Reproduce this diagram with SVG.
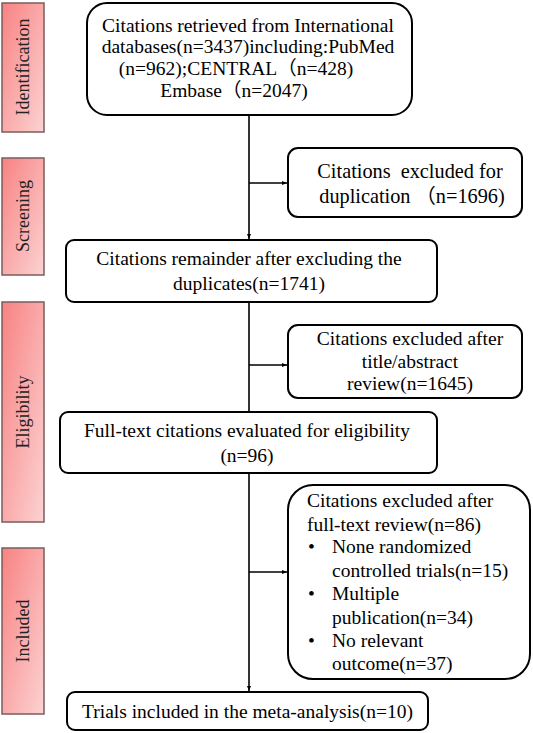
<svg xmlns="http://www.w3.org/2000/svg" width="533" height="733" viewBox="0 0 533 733">
<defs>
<linearGradient id="stage" x1="0" y1="0" x2="1" y2="1">
<stop offset="0" stop-color="#f88282"/>
<stop offset="1" stop-color="#fcd2d2"/>
</linearGradient>
<marker id="arr" viewBox="0 0 10 10" refX="10" refY="5" markerWidth="5" markerHeight="5" orient="auto" markerUnits="userSpaceOnUse">
<path d="M0,1 L10,5 L0,9 z" fill="#000"/>
</marker>
<style>
.stage{fill:url(#stage);stroke:#7a5c5c;stroke-width:1.5}
.box{fill:#fff;stroke:#000;stroke-width:2}
.t{font-family:"Liberation Serif","Noto Sans CJK SC",serif;font-size:19.5px;fill:#000}
.big{font-size:20.3px}
.c{text-anchor:middle}
.side{font-family:"Liberation Serif",serif;font-size:18px;fill:#222;text-anchor:middle}
.ln{fill:none;stroke:#000;stroke-width:1.6}
</style>
</defs>

<g id="stage-identification">
<rect class="stage" x="2" y="3" width="42" height="129"/>
<text class="side" transform="translate(29,67) rotate(-90)">Identification</text>
</g>
<g id="stage-screening">
<rect class="stage" x="2" y="158" width="42" height="117"/>
<text class="side" transform="translate(29,216) rotate(-90)">Screening</text>
</g>
<g id="stage-eligibility">
<rect class="stage" x="2" y="302" width="42" height="220"/>
<text class="side" transform="translate(29,412) rotate(-90)">Eligibility</text>
</g>
<g id="stage-included">
<rect class="stage" x="2" y="548" width="42" height="166"/>
<text class="side" transform="translate(29,631) rotate(-90)">Included</text>
</g>

<g id="connectors">
<path class="ln" d="M249,115 V239" marker-end="url(#arr)"/>
<path class="ln" d="M249,183 H287" marker-end="url(#arr)"/>
<path class="ln" d="M249,302 V412"/>
<path class="ln" d="M249,365 H287" marker-end="url(#arr)"/>
<path class="ln" d="M249,473 V691" marker-end="url(#arr)"/>
<path class="ln" d="M249,572 H287" marker-end="url(#arr)"/>
</g>

<g id="n1">
<rect class="box" x="87" y="3" width="325" height="112" rx="20"/>
<text class="t c" x="248" y="32">Citations retrieved from International</text>
<text class="t c" x="248" y="53">databases(n=3437)including:PubMed</text>
<text class="t c" x="236" y="75">(n=962);CENTRAL（n=428)</text>
<text class="t c" x="234" y="97">Embase（n=2047)</text>
</g>

<g id="n2">
<rect class="box" x="288" y="148" width="234" height="69" rx="10"/>
<text class="t big c" x="410" y="178" xml:space="preserve">Citations  excluded for</text>
<text class="t big c" x="412" y="203" xml:space="preserve">duplication （n=1696)</text>
</g>

<g id="n3">
<rect class="box" x="66" y="240" width="371" height="62" rx="8"/>
<text class="t c" x="249" y="265">Citations remainder after excluding the</text>
<text class="t c" x="249" y="290">duplicates(n=1741)</text>
</g>

<g id="n4">
<rect class="box" x="288" y="325" width="234" height="73" rx="10"/>
<text class="t c" x="410" y="345">Citations excluded after</text>
<text class="t c" x="410" y="368">title/abstract</text>
<text class="t c" x="410" y="390">review(n=1645)</text>
</g>

<g id="n5">
<rect class="box" x="60" y="412" width="377" height="61" rx="8"/>
<text class="t c" x="247" y="437">Full-text citations evaluated for eligibility</text>
<text class="t c" x="247" y="462">(n=96)</text>
</g>

<g id="n6">
<rect class="box" x="288" y="485" width="242" height="194" rx="25"/>
<text class="t" x="307" y="507">Citations excluded after</text>
<text class="t" x="307" y="531">full-text review(n=86)</text>
<text class="t" x="308" y="553">•</text>
<text class="t" x="332" y="553">None randomized</text>
<text class="t" x="332" y="577">controlled trials(n=15)</text>
<text class="t" x="308" y="600">•</text>
<text class="t" x="332" y="600">Multiple</text>
<text class="t" x="332" y="624">publication(n=34)</text>
<text class="t" x="308" y="647">•</text>
<text class="t" x="332" y="647">No relevant</text>
<text class="t" x="332" y="670">outcome(n=37)</text>
</g>

<g id="n7">
<rect class="box" x="67" y="692" width="361" height="38" rx="8"/>
<text class="t" x="82" y="718">Trials included in the meta-analysis(n=10)</text>
</g>
</svg>
